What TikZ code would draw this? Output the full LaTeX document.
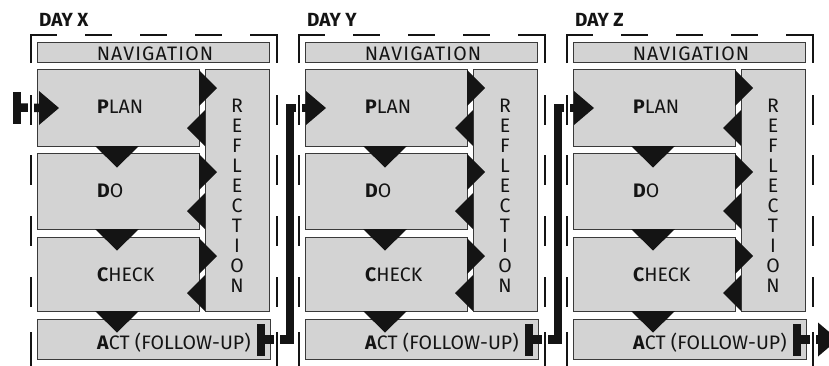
\documentclass[tikz,border=0pt]{standalone}
\usepackage{fontspec}
\setmainfont{Fira Sans}
\usetikzlibrary{arrows.meta,calc}
\definecolor{boxfill}{HTML}{D3D3D3}
\definecolor{boxline}{HTML}{3A3A3A}
\definecolor{ink}{HTML}{141414}
\tikzset{
 box/.style={draw=boxline, fill=boxfill, line width=1pt, inner sep=0pt, anchor=north west},
 txt/.style={text=ink, inner sep=0pt, font=\fontsize{19.5}{22}\selectfont},
 widetxt/.style={txt, font=\fontsize{19.5}{22}\selectfont\addfontfeature{LetterSpace=6}},
 daylbl/.style={text=ink, inner sep=0pt, font=\bfseries\fontsize{19}{22}\selectfont, anchor=base west},
 tri/.style={fill=ink},
 frameline/.style={draw=ink, line width=2pt, line join=miter, preaction={draw=white, line width=6pt}},
 conn/.style={draw=ink, line width=8.5pt, line join=miter},
 tiphead/.style={fill=ink},
 barmark/.style={fill=ink},
}
\newcommand\daypanel[3]{%
\begin{scope}[xshift=#2pt]
 \node[daylbl] (day#1) at (39,26) {DAY #3};
 \node[box, minimum width=232pt, minimum height=20pt] (nav#1) at (37,42) {};
 \node[widetxt, anchor=base] (navt#1) at (155,60) {NAVIGATION};
 \node[box, minimum width=162pt, minimum height=77pt] (plan#1) at (37,69) {};
 \node[box, minimum width=162pt, minimum height=76pt] (do#1) at (37,153) {};
 \node[box, minimum width=162pt, minimum height=74pt] (check#1) at (37,237) {};
 \node[box, minimum width=64pt, minimum height=242pt] (refl#1) at (205,69) {};
 \node[box, minimum width=233pt, minimum height=40pt] (act#1) at (37,319) {};
 \node[txt, anchor=base west] (plant#1) at (97,113) {\textbf{P}LAN};
 \node[txt, anchor=base west] (dot#1) at (97,197) {\textbf{D}O};
 \node[txt, anchor=base west] (checkt#1) at (97,281) {\textbf{C}HECK};
 \node[txt, anchor=base west] (actt#1) at (97,349) {\textbf{A}CT (FOLLOW-UP)};
 \foreach \l [count=\i from 0] in {R,E,F,L,E,C,T,I,O,N}
   \node[txt, anchor=base] (refl#1-\i) at (237,112+20*\i) {\l};
 \foreach \b in {146,229,311}
   \fill[tri] (95,\b) -- (139,\b) -- (117,\b+21.5) -- cycle;
 \foreach \t/\b in {69/146,153/229,237/311}{
   \fill[tri] (199,\t+1) -- (217,\t+19) -- (199,\t+37) -- cycle;
   \fill[tri] (205,\b) -- (187,\b-18) -- (205,\b-36) -- cycle;
 }
\end{scope}}
\newcommand\dayframe[1]{%
\begin{scope}[xshift=#1pt]
 \draw[frameline] (31,63) -- (31,35) -- (57,35);
 \draw[frameline] (250,35) -- (277,35) -- (277,63);
 \foreach \a in {85,140,195} \draw[frameline] (\a,35) -- (\a+27,35);
 \foreach \y in {95,155,216,277} {
   \draw[frameline] (31,\y) -- (31,\y+30);
   \draw[frameline] (277,\y) -- (277,\y+30);
 }
 \draw[frameline] (31,332) -- (31,372);
 \draw[frameline] (277,332) -- (277,372);
\end{scope}}
% arrowhead with its base at #1 pointing right
\newcommand\headat[1]{\fill[tiphead] ($(#1)+(0,-17)$) -- ($(#1)+(20,0)$) -- ($(#1)+(0,17)$) -- cycle;}
\begin{document}
\begin{tikzpicture}[x=1pt,y=-1pt]
\useasboundingbox (0,0) rectangle (829,365);
\fill[white] (0,0) rectangle (829,365);
\daypanel{X}{0}{X}
\daypanel{Y}{268}{Y}
\daypanel{Z}{536}{Z}
% entry
\coordinate (inX) at (17,107.5);
\coordinate (hX) at ($(planX.west)+(2,0)$);
\fill[barmark] ($(inX)+(-4,-16)$) rectangle ($(inX)+(4,16)$);
\draw[conn] (inX) -- ($(hX)+(1,0)$);
\headat{hX}
% X -> Y
\coordinate (hY) at ($(planY.west)+(1,0)$);
\fill[barmark] ($(actX.east)+(-14,-16)$) rectangle ($(actX.east)+(-6,16)$);
\draw[conn] ($(actX.east)+(-10,0)$) -- ++(29,0) |- ($(hY)+(1,0)$);
\headat{hY}
% Y -> Z
\coordinate (hZ) at ($(planZ.west)+(1,0)$);
\fill[barmark] ($(actY.east)+(-14,-16)$) rectangle ($(actY.east)+(-6,16)$);
\draw[conn] ($(actY.east)+(-10,0)$) -- ++(29,0) |- ($(hZ)+(1,0)$);
\headat{hZ}
% exit
\coordinate (outZ) at ($(actZ.east)+(11,0)$);
\fill[barmark] ($(actZ.east)+(-14,-16)$) rectangle ($(actZ.east)+(-6,16)$);
\draw[conn] ($(actZ.east)+(-10,0)$) -- ($(outZ)+(1,0)$);
\headat{outZ}
\dayframe{0}
\dayframe{268}
\dayframe{536}
\end{tikzpicture}
\end{document}
